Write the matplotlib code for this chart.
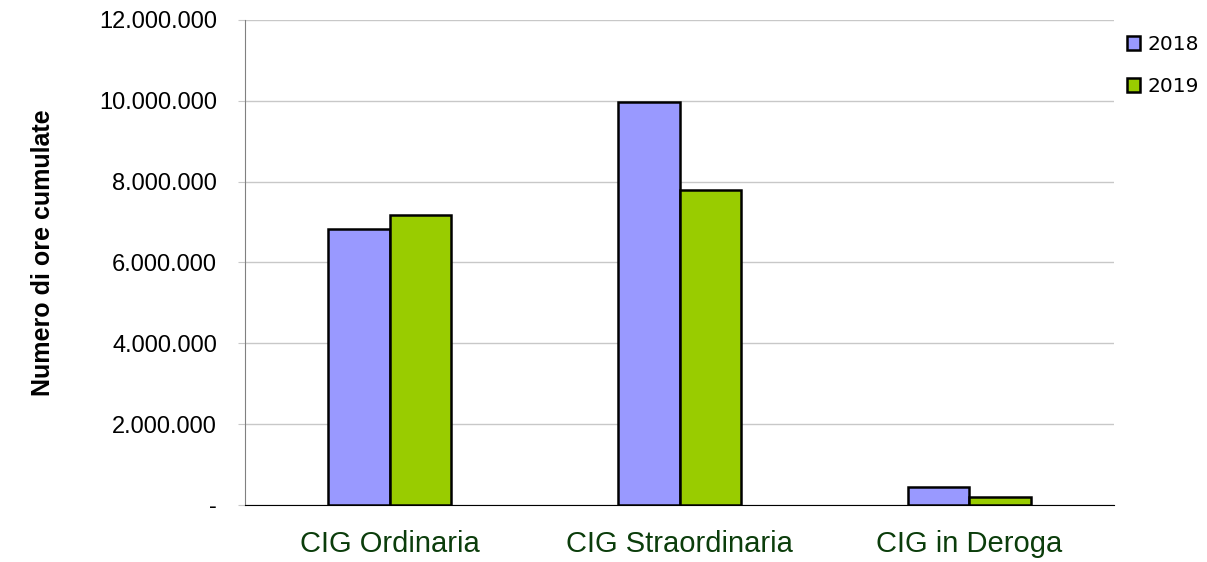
import matplotlib.pyplot as plt
import numpy as np
from matplotlib.ticker import FuncFormatter

# Data
categories = ["CIG Ordinaria", "CIG Straordinaria", "CIG in Deroga"]
ore_2018 = [6830000, 9970000, 450000]
ore_2019 = [7180000, 7800000, 200000]
years = ["2018", "2019"]

plt.rcParams['font.family'] = ['Liberation Sans', 'DejaVu Sans']

fig = plt.figure(figsize=(12.07, 5.62), dpi=100)
ax = fig.add_axes([245/1207, 57/562, 869/1207, 485/562])

x = np.arange(len(categories))
w = 0.2125
ax.bar(x - w/2, ore_2018, w, color='#9999FF', edgecolor='black', linewidth=1.8, label=years[0], zorder=3)
ax.bar(x + w/2, ore_2019, w, color='#99CC00', edgecolor='black', linewidth=1.8, label=years[1], zorder=3)

ax.set_xlim(-0.5, 2.5)
ax.set_ylim(0, 12000000)
ax.set_yticks(np.arange(0, 12000001, 2000000))

def fmt(v, pos):
    if v == 0:
        return '-'
    return f"{int(v):,}".replace(',', '.')
ax.yaxis.set_major_formatter(FuncFormatter(fmt))

ax.grid(axis='y', color='#C8C8C8', linewidth=1, zorder=0)
ax.tick_params(axis='y', length=5, color='#C8C8C8', labelsize=17, pad=15)
ax.tick_params(axis='x', length=0, labelsize=21, labelcolor='#0B3D0B', pad=18)
ax.set_xticks(x)
ax.set_xticklabels(categories)

for s in ['top', 'right']:
    ax.spines[s].set_visible(False)
ax.spines['left'].set_color('#808080')
ax.spines['bottom'].set_color('black')

ax.set_ylabel("Numero di ore cumulate", fontsize=18, fontweight='bold')
ax.yaxis.set_label_coords(-190/869, 0.52)

leg = fig.legend(loc='upper left', bbox_to_anchor=(1119/1207, 1 - 27/562), frameon=False,
                 prop={'family': 'DejaVu Sans', 'size': 14.5}, handlelength=0.65, handleheight=0.65,
                 handletextpad=0.35, labelspacing=1.15, borderaxespad=0)

fig.savefig("out.png", dpi=100)
